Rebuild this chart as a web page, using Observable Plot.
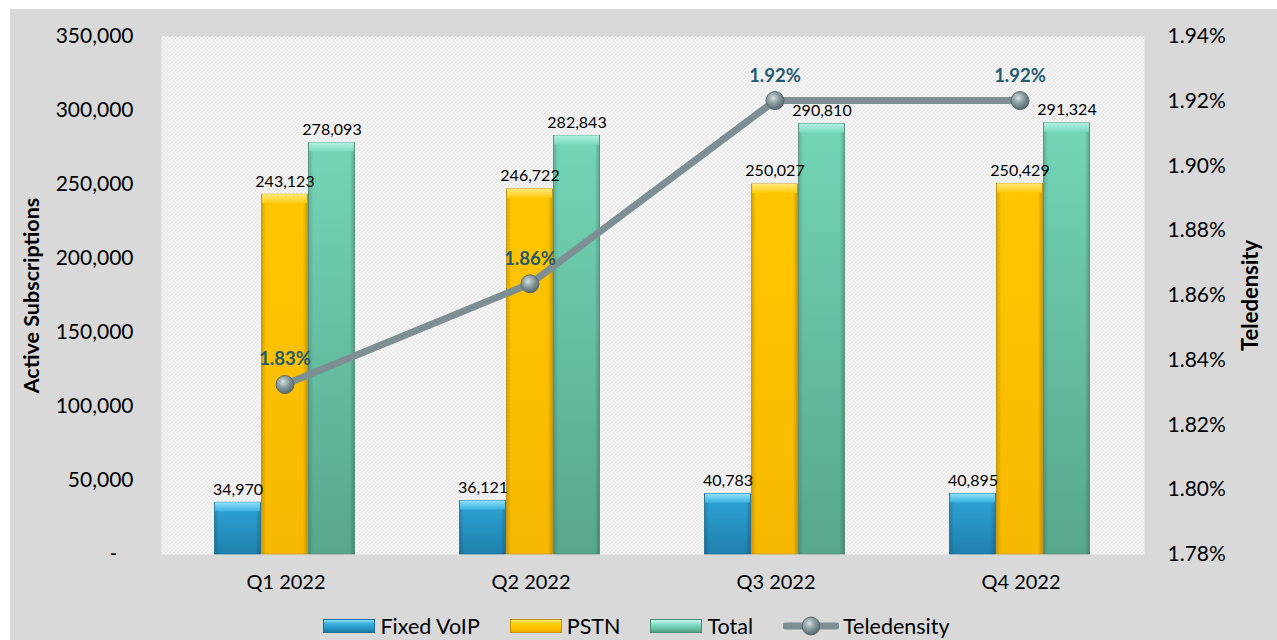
<!DOCTYPE html>
<html>
<head>
<meta charset="utf-8">
<script src="https://cdn.jsdelivr.net/npm/d3@7"></script>
<script src="https://cdn.jsdelivr.net/npm/@observablehq/plot@0.6"></script>
<style>
  html, body { margin: 0; padding: 0; background: #ffffff; }
  #wrap { position: absolute; left: 10px; top: 9px; width: 1267px; height: 631px; background: #d9d9d9; overflow: hidden; }
  #legend { position: absolute; left: -7px; top: 600px; width: 1267px; height: 34px; display: flex; justify-content: center; align-items: center; font-family: Lato, "Open Sans", sans-serif; font-size: 21.5px; color: #000; }
  .item { display: flex; align-items: center; margin: 0 15px; }
  .sw { width: 52px; height: 14px; margin-right: 5px; box-sizing: border-box; }
</style>
</head>
<body>
<div id="wrap"><div id="chart"></div><div id="legend"></div></div>
<script>
// ---- data ----
const quarters = ["Q1 2022", "Q2 2022", "Q3 2022", "Q4 2022"];
const fixedVoip = [34970, 36121, 40783, 40895];
const pstn = [243123, 246722, 250027, 250429];
const total = [278093, 282843, 290810, 291324];
const teledensity = [1.8325, 1.8636, 1.9202, 1.9202];
const leftTicks = [0, 50000, 100000, 150000, 200000, 250000, 300000, 350000];
const rightTicks = [1.78, 1.80, 1.82, 1.84, 1.86, 1.88, 1.90, 1.92, 1.94];
const seriesNames = ["Fixed VoIP", "PSTN", "Total", "Teledensity"];

const rows = quarters.map((q, i) => ({q, fixed: fixedVoip[i], pstn: pstn[i], total: total[i], tele: teledensity[i]}));

const LMAX = 350000, RMIN = 1.78, RMAX = 1.94;
const toLeft = t => (t - RMIN) / (RMAX - RMIN) * LMAX;
const fromLeft = v => v / LMAX * (RMAX - RMIN) + RMIN;
const fmt = d3.format(",");

const series = [
  {key: "fixed", grad: "gBlue", cap: "cBlue", stroke: "#1b6f96", dx: -47},
  {key: "pstn", grad: "gYellow", cap: "cYellow", stroke: "#c99300", dx: 0},
  {key: "total", grad: "gTeal", cap: "cTeal", stroke: "#4b8c76", dx: 47}
];
const inset = 99.6;

const marks = [Plot.frame({fill: "url(#chk)", stroke: "none"})];
for (const s of series) {
  marks.push(Plot.barY(rows, {x: "q", y: s.key, fill: `url(#${s.grad})`, stroke: s.stroke, strokeWidth: 0.8, insetLeft: inset, insetRight: inset, dx: s.dx - 1}));
  marks.push(Plot.barY(rows, {x: "q", y: s.key, fill: "url(#gSide)", insetLeft: inset, insetRight: inset, dx: s.dx - 1}));
  marks.push(Plot.barY(rows, {x: "q", y1: s.key, y2: s.key, insetBottom: -9, fill: `url(#${s.cap})`, insetLeft: inset + 0.5, insetRight: inset + 0.5, dx: s.dx - 1}));
}
for (const s of series) {
  marks.push(Plot.text(rows, {x: "q", y: s.key, text: d => fmt(d[s.key]), dx: s.dx - 1, dy: -8, lineAnchor: "bottom", fontSize: 16, fill: "#000"}));
}
marks.push(
  Plot.line(rows, {x: "q", y: d => toLeft(d.tele), stroke: "#7d8f92", strokeWidth: 7, dx: -1}),
  Plot.dot(rows, {x: "q", y: d => toLeft(d.tele), r: 9, fill: "url(#gDot)", stroke: "#5b6d70", strokeWidth: 1, dx: -1}),
  Plot.text(rows, {x: "q", y: d => toLeft(d.tele), text: d => d.tele.toFixed(2) + "%", dy: -25, dx: -1, fontWeight: "bold", fontSize: 18.5, fill: "#235b70"}),
  Plot.axisY(leftTicks, {anchor: "left", tickSize: 0, tickPadding: 28, fontSize: 21, label: null,
    tickFormat: d => d === 0 ? "-\u00a0\u00a0\u00a0" : fmt(d)}),
  Plot.axisY(rightTicks.map(toLeft), {anchor: "right", tickSize: 0, tickPadding: 23, fontSize: 21, label: null,
    tickFormat: v => fromLeft(v).toFixed(2) + "%"}),
  Plot.axisX({tickSize: 0, tickPadding: 20, fontSize: 20, label: null}),
  Plot.text(["Active Subscriptions"], {text: d => d, frameAnchor: "left", rotate: -90, dx: -129, textAnchor: "middle", fontWeight: "bold", fontSize: 21.5, fill: "#000"}),
  Plot.text(["Teledensity"], {text: d => d, frameAnchor: "right", rotate: -90, dx: 106, textAnchor: "middle", fontWeight: "bold", fontSize: 22, fill: "#000"})
);

const svg = Plot.plot({
  width: 1267,
  height: 600,
  marginTop: 27,
  marginBottom: 55,
  marginLeft: 151,
  marginRight: 133,
  style: {fontFamily: "Lato, 'Open Sans', sans-serif", fontSize: "20px", background: "transparent", color: "#000"},
  x: {type: "band", domain: quarters, padding: 0},
  y: {domain: [0, LMAX]},
  marks
});

svg.insertAdjacentHTML("afterbegin", `
<defs>
  <pattern id="chk" width="4" height="4" patternUnits="userSpaceOnUse">
    <rect width="4" height="4" fill="#ffffff"/>
    <rect width="2" height="2" fill="#e0e0e0"/>
    <rect x="2" y="2" width="2" height="2" fill="#e0e0e0"/>
  </pattern>
  <linearGradient id="gBlue" x1="0" y1="0" x2="0" y2="1">
    <stop offset="0" stop-color="#2fa6d8"/><stop offset="1" stop-color="#1f80ad"/>
  </linearGradient>
  <linearGradient id="cBlue" x1="0" y1="0" x2="0" y2="1">
    <stop offset="0" stop-color="#8fe2fb"/><stop offset="1" stop-color="#3ab0de"/>
  </linearGradient>
  <linearGradient id="gYellow" x1="0" y1="0" x2="0" y2="1">
    <stop offset="0" stop-color="#ffc600"/><stop offset="1" stop-color="#f7b900"/>
  </linearGradient>
  <linearGradient id="cYellow" x1="0" y1="0" x2="0" y2="1">
    <stop offset="0" stop-color="#ffe97a"/><stop offset="1" stop-color="#ffcb10"/>
  </linearGradient>
  <linearGradient id="gTeal" x1="0" y1="0" x2="0" y2="1">
    <stop offset="0" stop-color="#74d5b7"/><stop offset="1" stop-color="#57a78c"/>
  </linearGradient>
  <linearGradient id="cTeal" x1="0" y1="0" x2="0" y2="1">
    <stop offset="0" stop-color="#b2f3e1"/><stop offset="1" stop-color="#7bd9bd"/>
  </linearGradient>
  <linearGradient id="gSide" x1="0" y1="0" x2="1" y2="0">
    <stop offset="0" stop-color="#000" stop-opacity="0.16"/>
    <stop offset="0.1" stop-color="#000" stop-opacity="0"/>
    <stop offset="0.9" stop-color="#000" stop-opacity="0"/>
    <stop offset="1" stop-color="#000" stop-opacity="0.2"/>
  </linearGradient>
  <radialGradient id="gDot" cx="0.4" cy="0.35" r="0.65">
    <stop offset="0" stop-color="#d5dfe1"/>
    <stop offset="0.5" stop-color="#8a9c9f"/>
    <stop offset="1" stop-color="#56686b"/>
  </radialGradient>
</defs>`);

document.getElementById("chart").appendChild(svg);

// ---- legend ----
const swatchStyles = [
  "background: linear-gradient(#8fe2fb 0%, #3ab0de 30%, #2a9dcc 60%, #1c79a3 100%); border: 1px solid #1b6f96;",
  "background: linear-gradient(#ffe97a 0%, #ffcb10 30%, #ffc400 60%, #eeb000 100%); border: 1px solid #c99300;",
  "background: linear-gradient(#c5f7ea 0%, #8fe3ca 30%, #6fcdb0 60%, #56a287 100%); border: 1px solid #4b8c76;"
];
const legend = document.getElementById("legend");
seriesNames.forEach((name, i) => {
  const item = document.createElement("div");
  item.className = "item";
  if (i < 3) {
    const sw = document.createElement("div");
    sw.className = "sw";
    sw.setAttribute("style", swatchStyles[i]);
    item.appendChild(sw);
  } else {
    const ns = "http://www.w3.org/2000/svg";
    const s = document.createElementNS(ns, "svg");
    s.setAttribute("width", "56"); s.setAttribute("height", "22");
    s.style.marginRight = "4px";
    s.innerHTML = `<defs><radialGradient id="gDotL" cx="0.4" cy="0.35" r="0.65"><stop offset="0" stop-color="#d5dfe1"/><stop offset="0.5" stop-color="#8a9c9f"/><stop offset="1" stop-color="#56686b"/></radialGradient></defs>
      <line x1="3" y1="11" x2="53" y2="11" stroke="#7d8f92" stroke-width="7" stroke-linecap="round"/>
      <circle cx="28" cy="11" r="9" fill="url(#gDotL)" stroke="#5b6d70" stroke-width="1"/>`;
    item.appendChild(s);
  }
  const t = document.createElement("span");
  t.textContent = name;
  item.appendChild(t);
  legend.appendChild(item);
});
</script>
</body>
</html>
